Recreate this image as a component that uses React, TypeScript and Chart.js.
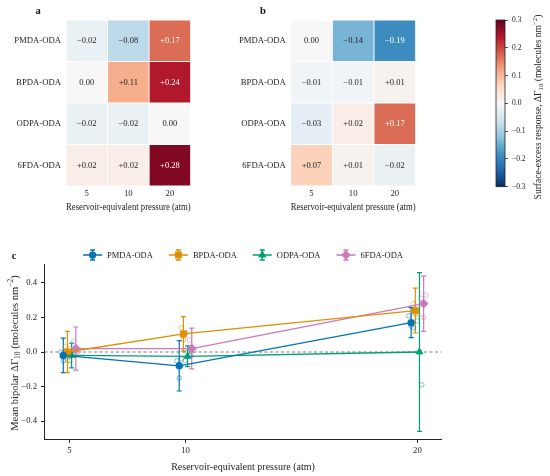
import React, { useEffect, useRef } from "react";
import { Chart, registerables } from "chart.js";
import { drawPoint } from "chart.js/helpers";

Chart.register(...registerables);

const FONT = "'Liberation Serif', 'DejaVu Serif', serif";
const INK = "#222222";

// ---- data ----
const pressures = [5, 10, 20];
const polymers = ["PMDA-ODA", "BPDA-ODA", "ODPA-ODA", "6FDA-ODA"];

// panel a: rows follow polymers, columns follow pressures
const responseA = [
  [-0.02, -0.08, 0.17],
  [0.0, 0.11, 0.24],
  [-0.02, -0.02, 0.0],
  [0.02, 0.02, 0.28],
];
// panel b
const responseB = [
  [0.0, -0.14, -0.19],
  [-0.01, -0.01, 0.01],
  [-0.03, 0.02, 0.17],
  [0.07, 0.01, -0.02],
];
const colorbarTicks = [-0.3, -0.2, -0.1, 0, 0.1, 0.2, 0.3];

// panel c: mean bipolar response and 95% CI half-widths
const meanPMDA = [-0.02, -0.08, 0.17];
const meanBPDA = [0.0, 0.105, 0.24];
const meanODPA = [-0.02, -0.025, 0.0];
const mean6FDA = [0.02, 0.02, 0.28];
const ciPMDA = [0.1, 0.146, 0.087];
const ciBPDA = [0.12, 0.1, 0.13];
const ciODPA = [0.072, 0.06, 0.46];
const ci6FDA = [0.125, 0.118, 0.16];
// replicates (3 per pressure)
const repPMDA = [[0.0, -0.05, -0.01], [-0.05, -0.15, -0.04], [0.21, 0.15, 0.14]];
const repBPDA = [[0.03, -0.05, 0.02], [0.14, 0.07, 0.11], [0.28, 0.22, 0.22]];
const repODPA = [[-0.05, -0.02, 0.01], [-0.05, 0.0, -0.02], [0.18, 0.0, -0.19]];
const rep6FDA = [[0.06, 0.0, 0.0], [0.07, -0.02, 0.01], [0.31, 0.2, 0.33]];
const yTicksC = [-0.4, -0.2, 0, 0.2, 0.4];

const means = [meanPMDA, meanBPDA, meanODPA, mean6FDA];
const cis = [ciPMDA, ciBPDA, ciODPA, ci6FDA];
const reps = [repPMDA, repBPDA, repODPA, rep6FDA];

// ---- styles ----
const seriesColors = ["#0173b2", "#de8f05", "#029e73", "#cc78bc"];
const seriesAlpha = ["rgba(1,115,178,0.55)", "rgba(222,143,5,0.55)", "rgba(2,158,115,0.55)", "rgba(204,120,188,0.55)"];
const seriesMarkers = ["circle", "rect", "triangle", "rectRot"];
const markerRadius = [3.5, 4.6, 4.2, 4.6];
const dodge = [-0.27, -0.09, 0.09, 0.27];
const repJitter = [-0.1, 0, 0.1];

const rdbu = ["#053061", "#2166ac", "#4393c3", "#92c5de", "#d1e5f0", "#f7f7f7",
  "#fddbc7", "#f4a582", "#d6604d", "#b2182b", "#67001f"];
const vmin = -0.3;
const vmax = 0.3;

const hexToRgb = (h: string) => {
  const n = parseInt(h.slice(1), 16);
  return [(n >> 16) & 255, (n >> 8) & 255, n & 255];
};

const valueColor = (v: number) => {
  const t = Math.min(1, Math.max(0, (v - vmin) / (vmax - vmin))) * (rdbu.length - 1);
  const i = Math.min(rdbu.length - 2, Math.floor(t));
  const f = t - i;
  const a = hexToRgb(rdbu[i]);
  const b = hexToRgb(rdbu[i + 1]);
  const c = a.map((x, k) => Math.round(x + (b[k] - x) * f));
  return `rgb(${c[0]},${c[1]},${c[2]})`;
};

const minus = (s: string) => s.replace("-", "\u2212");
const fmtCell = (v: number) =>
  v === 0 ? "0.00" : (v > 0 ? "+" : "\u2212") + Math.abs(v).toFixed(2);
const fmt1 = (v: number) => (Math.abs(v) < 1e-9 ? "0.0" : minus(v.toFixed(1)));

type Part = { text: string; kind?: "sub" | "sup" };

// rotated text with sub/superscripts, reading bottom to top
function drawRichText(ctx: CanvasRenderingContext2D, parts: Part[], x: number, y: number, size: number) {
  const small = size * 0.72;
  ctx.save();
  ctx.translate(x, y);
  ctx.rotate(-Math.PI / 2);
  ctx.fillStyle = INK;
  ctx.textAlign = "left";
  ctx.textBaseline = "alphabetic";
  const widths = parts.map((p) => {
    ctx.font = `${p.kind ? small : size}px ${FONT}`;
    return ctx.measureText(p.text).width;
  });
  let cx = -widths.reduce((a, b) => a + b, 0) / 2;
  parts.forEach((p, i) => {
    ctx.font = `${p.kind ? small : size}px ${FONT}`;
    const dy = size * 0.34 + (p.kind === "sub" ? size * 0.22 : p.kind === "sup" ? -size * 0.42 : 0);
    ctx.fillText(p.text, cx, dy);
    cx += widths[i];
  });
  ctx.restore();
}

const panelLabel = {
  id: "panelLabel",
  afterDraw(chart: any, _args: any, opts: any) {
    if (!opts || !opts.text) return;
    const { ctx } = chart;
    ctx.save();
    ctx.font = `bold 10.5px ${FONT}`;
    ctx.fillStyle = "#111";
    ctx.textAlign = "center";
    ctx.textBaseline = "middle";
    ctx.fillText(opts.text, opts.x, opts.y);
    ctx.restore();
  },
};

const cellLabels = {
  id: "cellLabels",
  afterDatasetsDraw(chart: any) {
    const { ctx } = chart;
    ctx.save();
    ctx.font = `8.5px ${FONT}`;
    ctx.textAlign = "center";
    ctx.textBaseline = "middle";
    chart.data.datasets.forEach((ds: any, di: number) => {
      chart.getDatasetMeta(di).data.forEach((bar: any, ci: number) => {
        const v = ds.values[ci];
        const p = bar.getCenterPoint();
        ctx.fillStyle = Math.abs(v) >= 0.15 ? "#ffffff" : INK;
        ctx.fillText(fmtCell(v), p.x, p.y + 0.5);
      });
    });
    ctx.restore();
  },
};

function makeHeatmap(canvas: HTMLCanvasElement, values: number[][], label: any, yWidth: number, padRight: number) {
  const bottomUp = polymers.map((_, i) => polymers.length - 1 - i);
  return new Chart(canvas, {
    type: "bar",
    data: {
      labels: pressures.map(String),
      datasets: bottomUp.map((r) => ({
        label: polymers[r],
        values: values[r],
        data: pressures.map(() => 1),
        backgroundColor: values[r].map(valueColor),
        borderColor: "#ffffff",
        borderWidth: 0.8,
        borderSkipped: false,
        barPercentage: 1,
        categoryPercentage: 1,
      })) as any,
    },
    options: {
      animation: false,
      responsive: false,
      events: [],
      layout: { padding: { left: 0, top: 20, right: padRight, bottom: 0 } },
      scales: {
        x: {
          stacked: true,
          grid: { display: false, drawTicks: false },
          border: { display: false },
          ticks: { font: { family: FONT, size: 8.7 }, color: INK, padding: 2 },
          title: {
            display: true,
            text: "Reservoir-equivalent pressure (atm)",
            font: { family: FONT, size: 10 },
            color: INK,
            padding: { top: 0, bottom: 2 },
          },
          afterFit: (s: any) => {
            s.height = 29;
          },
        },
        y: {
          stacked: true,
          min: 0,
          max: polymers.length,
          grid: { display: false, drawTicks: false },
          border: { display: false },
          afterBuildTicks: (s: any) => {
            s.ticks = polymers.map((_, i) => ({ value: i + 0.5 }));
          },
          ticks: {
            font: { family: FONT, size: 8.7 },
            color: INK,
            padding: 5,
            callback: (v: any) => polymers[polymers.length - 1 - Math.floor(Number(v))],
          },
          afterFit: (s: any) => {
            s.width = yWidth;
          },
        },
      },
      plugins: { legend: { display: false }, tooltip: { enabled: false }, panelLabel: label } as any,
    },
    plugins: [cellLabels, panelLabel],
  });
}

const colorbarPlugin = {
  id: "colorbar",
  afterDraw(chart: any) {
    const { ctx, chartArea: a } = chart;
    const g = ctx.createLinearGradient(0, a.bottom, 0, a.top);
    rdbu.forEach((c, i) => g.addColorStop(i / (rdbu.length - 1), c));
    ctx.save();
    ctx.fillStyle = g;
    ctx.fillRect(a.left, a.top, a.right - a.left, a.bottom - a.top);
    ctx.strokeStyle = INK;
    ctx.lineWidth = 0.8;
    ctx.strokeRect(a.left, a.top, a.right - a.left, a.bottom - a.top);
    ctx.restore();
    drawRichText(ctx, [
      { text: "Surface-excess response, \u0394\u0393" },
      { text: "10", kind: "sub" },
      { text: " (molecules nm" },
      { text: "\u22122", kind: "sup" },
      { text: ")" },
    ], 98, 107, 9.5);
  },
};

const errorBars = {
  id: "errorBars",
  beforeDatasetsDraw(chart: any) {
    const { ctx, chartArea: a } = chart;
    const x = chart.scales.x;
    const y = chart.scales.y;
    ctx.save();
    // zero reference
    const y0 = y.getPixelForValue(0);
    ctx.strokeStyle = "#555";
    ctx.lineWidth = 0.8;
    ctx.setLineDash([3, 2.5]);
    ctx.beginPath();
    ctx.moveTo(a.left, y0);
    ctx.lineTo(a.right, y0);
    ctx.stroke();
    ctx.setLineDash([]);
    chart.data.datasets.forEach((ds: any) => {
      if (!ds.ci) return;
      ctx.strokeStyle = ds.borderColor;
      ctx.lineWidth = 1.2;
      ds.data.forEach((pt: any, k: number) => {
        const px = x.getPixelForValue(pt.x);
        const top = y.getPixelForValue(pt.y + ds.ci[k]);
        const bot = y.getPixelForValue(pt.y - ds.ci[k]);
        ctx.beginPath();
        ctx.moveTo(px, top);
        ctx.lineTo(px, bot);
        ctx.moveTo(px - 2.5, top);
        ctx.lineTo(px + 2.5, top);
        ctx.moveTo(px - 2.5, bot);
        ctx.lineTo(px + 2.5, bot);
        ctx.stroke();
      });
    });
    ctx.restore();
  },
};

const legendC = {
  id: "legendC",
  afterDraw(chart: any) {
    const { ctx, chartArea: a } = chart;
    ctx.save();
    ctx.font = `8.5px ${FONT}`;
    const sym = 19;
    const gap = 5;
    const spacing = 16;
    const widths = polymers.map((p) => sym + gap + ctx.measureText(p).width);
    const total = widths.reduce((s, w) => s + w, 0) + spacing * (polymers.length - 1);
    let x = (a.left + a.right) / 2 - total / 2;
    const y = 15;
    polymers.forEach((p, i) => {
      const cx = x + sym / 2;
      ctx.strokeStyle = seriesColors[i];
      ctx.fillStyle = seriesColors[i];
      ctx.lineWidth = 1.3;
      ctx.beginPath();
      ctx.moveTo(x, y);
      ctx.lineTo(x + sym, y);
      ctx.moveTo(cx, y - 5);
      ctx.lineTo(cx, y + 5);
      ctx.moveTo(cx - 2.5, y - 5);
      ctx.lineTo(cx + 2.5, y - 5);
      ctx.moveTo(cx - 2.5, y + 5);
      ctx.lineTo(cx + 2.5, y + 5);
      ctx.stroke();
      drawPoint(ctx, { pointStyle: seriesMarkers[i] as any, radius: markerRadius[i] * 0.85, borderWidth: 0.5, rotation: 0 } as any, cx, y);
      ctx.fillStyle = INK;
      ctx.textAlign = "left";
      ctx.textBaseline = "middle";
      ctx.fillText(p, x + sym + gap, y + 0.5);
      x += widths[i] + spacing;
    });
    ctx.restore();
    drawRichText(ctx, [
      { text: "Mean bipolar \u0394\u0393" },
      { text: "10", kind: "sub" },
      { text: " (molecules nm" },
      { text: "\u22122", kind: "sup" },
      { text: ")" },
    ], 14, (a.top + a.bottom) / 2 + 1, 10.5);
  },
};

const App: React.FC = () => {
  const refA = useRef<HTMLCanvasElement | null>(null);
  const refB = useRef<HTMLCanvasElement | null>(null);
  const refBar = useRef<HTMLCanvasElement | null>(null);
  const refC = useRef<HTMLCanvasElement | null>(null);

  useEffect(() => {
    const charts: Chart[] = [];
    if (refA.current) charts.push(makeHeatmap(refA.current, responseA, { text: "a", x: 38, y: 11 }, 66, 24.3));
    if (refB.current) charts.push(makeHeatmap(refB.current, responseB, { text: "b", x: 43, y: 11 }, 70.7, 4.3));

    if (refBar.current) {
      charts.push(
        new Chart(refBar.current, {
          type: "scatter",
          data: { datasets: [] },
          options: {
            animation: false,
            responsive: false,
            events: [],
            layout: { padding: { left: 56, top: 20, right: 0, bottom: 28.3 } },
            scales: {
              x: { display: false, min: 0, max: 1 },
              y: {
                position: "right",
                min: vmin,
                max: vmax,
                afterBuildTicks: (s: any) => {
                  s.ticks = colorbarTicks.map((value) => ({ value }));
                },
                grid: { drawOnChartArea: false, drawTicks: true, tickLength: 3, color: INK, lineWidth: 0.8 },
                border: { display: false },
                ticks: { font: { family: FONT, size: 7.5 }, color: INK, padding: 4, callback: (v: any) => fmt1(Number(v)) },
                afterFit: (s: any) => {
                  s.width = 45;
                },
              },
            },
            plugins: { legend: { display: false }, tooltip: { enabled: false } },
          },
          plugins: [colorbarPlugin],
        })
      );
    }

    if (refC.current) {
      const meanSets = polymers.map((p, i) => ({
        type: "scatter" as const,
        label: p,
        ci: cis[i],
        data: pressures.map((pr, k) => ({ x: pr + dodge[i], y: means[i][k] })),
        showLine: true,
        borderColor: seriesColors[i],
        backgroundColor: seriesColors[i],
        borderWidth: 1.3,
        pointStyle: seriesMarkers[i],
        pointRadius: markerRadius[i],
        pointBorderWidth: 0.5,
        order: 0,
      }));
      const repSets = polymers.map((p, i) => ({
        type: "scatter" as const,
        label: p + " replicates",
        data: pressures.flatMap((pr, k) =>
          reps[i][k].map((v, j) => ({ x: pr + dodge[i] + repJitter[j], y: v }))
        ),
        showLine: false,
        borderColor: seriesAlpha[i],
        backgroundColor: "rgba(255,255,255,0)",
        borderWidth: 0.9,
        pointStyle: "circle",
        pointRadius: 2.3,
        order: 1,
      }));
      charts.push(
        new Chart(refC.current, {
          type: "scatter",
          data: { datasets: [...meanSets, ...repSets] as any },
          options: {
            animation: false,
            responsive: false,
            events: [],
            layout: { padding: { left: 0, top: 24.7, right: 108.5, bottom: 0 } },
            scales: {
              x: {
                type: "linear",
                min: 3.92,
                max: 21.04,
                afterBuildTicks: (s: any) => {
                  s.ticks = pressures.map((value) => ({ value }));
                },
                grid: { drawOnChartArea: false, drawTicks: true, tickLength: 3.5, color: INK, lineWidth: 1 },
                border: { display: true, color: INK, width: 1 },
                ticks: { font: { family: FONT, size: 8.7 }, color: INK, padding: 3, callback: (v: any) => String(v) },
                title: {
                  display: true,
                  text: "Reservoir-equivalent pressure (atm)",
                  font: { family: FONT, size: 10 },
                  color: INK,
                  padding: { top: 0, bottom: 3 },
                },
                afterFit: (s: any) => {
                  s.height = 36.7;
                },
              },
              y: {
                min: -0.506,
                max: 0.506,
                afterBuildTicks: (s: any) => {
                  s.ticks = yTicksC.map((value) => ({ value }));
                },
                grid: { drawOnChartArea: false, drawTicks: true, tickLength: 3.5, color: INK, lineWidth: 1 },
                border: { display: true, color: INK, width: 1 },
                ticks: { font: { family: FONT, size: 8.7 }, color: INK, padding: 4, callback: (v: any) => fmt1(Number(v)) },
                afterFit: (s: any) => {
                  s.width = 44.5;
                },
              },
            },
            plugins: {
              legend: { display: false },
              tooltip: { enabled: false },
              panelLabel: { text: "c", x: 14, y: 16.5 },
            } as any,
          },
          plugins: [errorBars, legendC, panelLabel],
        })
      );
    }

    return () => {
      charts.forEach((c) => c.destroy());
    };
  }, []);

  return (
    <div style={{ position: "fixed", left: 0, top: 0, width: 550, height: 476, background: "#ffffff" }}>
      <canvas ref={refA} width={215} height={215} style={{ position: "absolute", left: 0, top: 0 }} />
      <canvas ref={refB} width={200} height={215} style={{ position: "absolute", left: 220, top: 0 }} />
      <canvas ref={refBar} width={110} height={215} style={{ position: "absolute", left: 440, top: 0 }} />
      <canvas ref={refC} width={550} height={236} style={{ position: "absolute", left: 0, top: 240 }} />
    </div>
  );
};

export default App;
